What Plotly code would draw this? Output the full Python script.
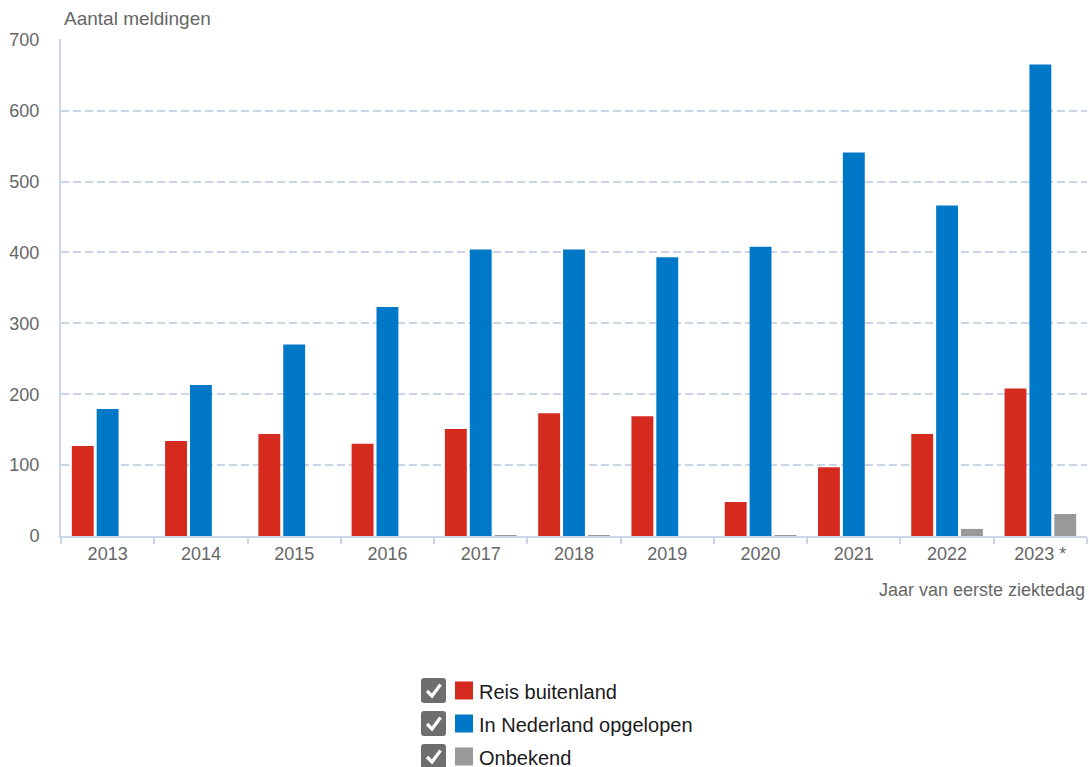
import plotly.graph_objects as go

categories = ["2013", "2014", "2015", "2016", "2017", "2018", "2019", "2020", "2021", "2022", "2023 *"]
reis_buitenland = [127, 134, 144, 130, 151, 173, 169, 48, 97, 144, 208]
in_nederland = [179, 213, 270, 323, 404, 404, 393, 408, 541, 466, 665]
onbekend = [0, 0, 0, 0, 1, 1, 0, 1, 0, 10, 31]
series_names = ["Reis buitenland", "In Nederland opgelopen", "Onbekend"]
series_colors = ["#d52b1e", "#0078c8", "#999999"]

W, H = 1089, 767
ML, MR, MT, MB = 61, 2, 39, 767 - 536
PW = W - ML - MR
PH = H - MT - MB

def X(px):
    return (px - ML) / PW

def Y(py):
    return (MT + PH - py) / PH

FONT = "Liberation Sans, Arial, sans-serif"

fig = go.Figure()
for name, vals, col in zip(series_names, [reis_buitenland, in_nederland, onbekend], series_colors):
    fig.add_trace(go.Bar(x=categories, y=vals, name=name, marker=dict(color=col, line=dict(width=0)),
                         showlegend=False))

shapes = []
annotations = []

# custom legend with checkboxes
row_centers = [690.5, 723.5, 756.5]
for name, col, cy in zip(series_names, series_colors, row_centers):
    x0, x1 = 421, 446
    y0, y1 = cy - 12.5, cy + 12.5
    r = 3
    path = (f"M {X(x0 + r)},{Y(y0)} L {X(x1 - r)},{Y(y0)} Q {X(x1)},{Y(y0)} {X(x1)},{Y(y0 + r)} "
            f"L {X(x1)},{Y(y1 - r)} Q {X(x1)},{Y(y1)} {X(x1 - r)},{Y(y1)} "
            f"L {X(x0 + r)},{Y(y1)} Q {X(x0)},{Y(y1)} {X(x0)},{Y(y1 - r)} "
            f"L {X(x0)},{Y(y0 + r)} Q {X(x0)},{Y(y0)} {X(x0 + r)},{Y(y0)} Z")
    shapes.append(dict(type="path", xref="paper", yref="paper", path=path,
                       fillcolor="#6e6e6e", line=dict(width=0)))
    check = (f"M {X(427)},{Y(cy + 0.5)} L {X(432)},{Y(cy + 5.5)} L {X(440.5)},{Y(cy - 6)}")
    shapes.append(dict(type="path", xref="paper", yref="paper", path=check,
                       line=dict(color="white", width=3.2)))
    shapes.append(dict(type="rect", xref="paper", yref="paper",
                       x0=X(455), x1=X(473), y0=Y(cy - 9), y1=Y(cy + 9),
                       fillcolor=col, line=dict(width=0)))
    annotations.append(dict(xref="paper", yref="paper", x=X(477), y=Y(cy + 1), text=name,
                            showarrow=False, xanchor="left", yanchor="middle",
                            font=dict(family=FONT, size=20, color="#1a1a1a")))

annotations.append(dict(xref="paper", yref="paper", x=X(62), y=Y(19), text="Aantal meldingen",
                        showarrow=False, xanchor="left", yanchor="middle",
                        font=dict(family=FONT, size=19, color="#666666")))
annotations.append(dict(xref="paper", yref="paper", x=X(1087), y=Y(590), text="Jaar van eerste ziektedag",
                        showarrow=False, xanchor="right", yanchor="middle",
                        font=dict(family=FONT, size=18, color="#666666")))

fig.update_layout(
    width=W, height=H,
    margin=dict(l=ML, r=MR, t=MT, b=MB, pad=0),
    paper_bgcolor="white", plot_bgcolor="white",
    barmode="group", bargap=0.2, bargroupgap=0.12,
    font=dict(family=FONT, size=18, color="#666666"),
    shapes=shapes, annotations=annotations,
    xaxis=dict(type="category", showgrid=False, showline=True, linecolor="#ccd6eb", linewidth=2,
               ticks="outside", tickson="boundaries", ticklen=6, tickcolor="#ccd6eb", tickwidth=2,
               tickfont=dict(family=FONT, size=18, color="#666666"), zeroline=False),
    yaxis=dict(range=[0, 701], tickvals=[0, 100, 200, 300, 400, 500, 600, 700],
               showgrid=True, gridcolor="#c9d6e7", griddash="8px,4px", gridwidth=2,
               showline=True, linecolor="#ccd6eb", linewidth=2, zeroline=False,
               ticks="", ticklabelstandoff=16,
               tickfont=dict(family=FONT, size=18, color="#666666")),
)

fig.write_html(
    "out.html",
    config={"displayModeBar": False},
    post_script="document.body.style.margin='0';document.body.style.overflow='hidden';"
                "document.documentElement.style.overflow='hidden';",
)
